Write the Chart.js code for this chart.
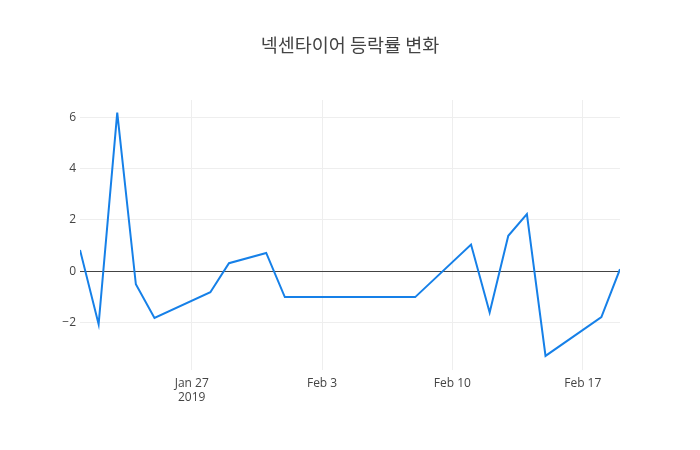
<!DOCTYPE html>
<html lang="ko">
<head>
    <meta charset="UTF-8">
    <title>넥센타이어 등락률 변화</title>
    <script src="https://cdn.jsdelivr.net/npm/chart.js"></script>
    <style>
        body { margin: 0; background: #fff; }
        #chart { display: block; }
    </style>
</head>
<body>
    <canvas id="chart" width="700" height="450"></canvas>

    <script>
        const chartTitle = '넥센타이어 등락률 변화';
        const dates = ['2019-01-21', '2019-01-22', '2019-01-23', '2019-01-24', '2019-01-25',
                       '2019-01-28', '2019-01-29', '2019-01-31', '2019-02-01', '2019-02-08',
                       '2019-02-11', '2019-02-12', '2019-02-13', '2019-02-14', '2019-02-15',
                       '2019-02-18', '2019-02-19'];
        const changes = [0.83, -2.07, 6.18, -0.51, -1.82,
                         -0.82, 0.31, 0.71, -1.01, -1.01,
                         1.04, -1.61, 1.38, 2.22, -3.30,
                         -1.79, 0.08];
        const xTickDates = ['2019-01-27', '2019-02-03', '2019-02-10', '2019-02-17'];
        const yTicks = [-2, 0, 2, 4, 6];
        const months = ['Jan', 'Feb', 'Mar', 'Apr', 'May', 'Jun', 'Jul', 'Aug', 'Sep', 'Oct', 'Nov', 'Dec'];

        // day numbers so a plain linear axis can stand in for a time axis
        const toDay = s => {
            const p = s.split('-').map(Number);
            return Date.UTC(p[0], p[1] - 1, p[2]) / 86400000;
        };
        const points = dates.map((d, i) => ({ x: toDay(d), y: changes[i] }));
        const xTicks = xTickDates.map(toDay);

        function dayLabel(v, first) {
            const d = new Date(v * 86400000);
            const txt = months[d.getUTCMonth()] + ' ' + d.getUTCDate();
            return first ? [txt, String(d.getUTCFullYear())] : txt;
        }

        const titlePlugin = {
            id: 'plotTitle',
            afterDraw(chart) {
                const c = chart.ctx;
                c.save();
                c.font = '18.5px "Noto Sans CJK KR", "Open Sans", sans-serif';
                c.fillStyle = '#444';
                c.textAlign = 'center';
                c.textBaseline = 'middle';
                c.fillText(chartTitle, 350, 45);
                c.restore();
            }
        };

        Chart.defaults.font.family = '"Open Sans", sans-serif';
        Chart.defaults.font.size = 12;
        Chart.defaults.color = '#444';

        new Chart(document.getElementById('chart').getContext('2d'), {
            type: 'line',
            data: {
                datasets: [{
                    data: points,
                    borderColor: 'rgb(22, 128, 232)',
                    borderWidth: 2,
                    pointRadius: 0,
                    tension: 0,
                    fill: false
                }]
            },
            options: {
                responsive: false,
                animation: false,
                devicePixelRatio: 1,
                layout: { padding: { top: 100, right: 80, bottom: 0, left: 0 } },
                plugins: {
                    legend: { display: false },
                    tooltip: { enabled: false }
                },
                scales: {
                    x: {
                        type: 'linear',
                        min: toDay(dates[0]),
                        max: toDay(dates[dates.length - 1]),
                        afterBuildTicks: s => { s.ticks = xTicks.map(v => ({ value: v })); },
                        afterFit: s => { s.height = 80; },
                        border: { display: false },
                        grid: { color: '#eee', drawTicks: false },
                        ticks: {
                            padding: 6,
                            maxRotation: 0,
                            autoSkip: false,
                            callback: (v, i) => dayLabel(v, i === 0)
                        }
                    },
                    y: {
                        min: -3.85,
                        max: 6.67,
                        afterBuildTicks: s => { s.ticks = yTicks.map(v => ({ value: v })); },
                        afterFit: s => { s.width = 80; },
                        border: { display: false },
                        grid: {
                            drawTicks: false,
                            color: ctx => ctx.tick && ctx.tick.value === 0 ? '#444' : '#eee'
                        },
                        ticks: {
                            padding: 4,
                            callback: v => v < 0 ? '\u2212' + Math.abs(v) : String(v)
                        }
                    }
                }
            },
            plugins: [titlePlugin]
        });
    </script>
</body>
</html>
